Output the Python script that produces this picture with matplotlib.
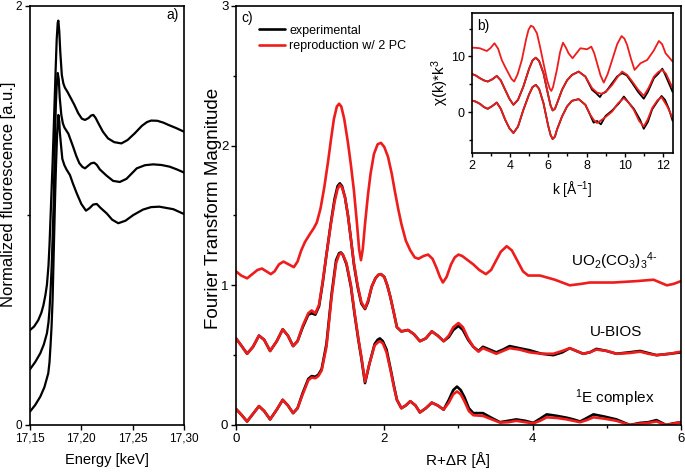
import numpy as np
from matplotlib import pyplot as plt
from matplotlib.ticker import MultipleLocator

plt.rcParams['font.family'] = ['Liberation Sans', 'DejaVu Sans']
plt.rcParams['mathtext.fontset'] = 'custom'
plt.rcParams['mathtext.rm'] = 'Liberation Sans'
plt.rcParams['mathtext.it'] = 'Liberation Sans:italic'
plt.rcParams['mathtext.default'] = 'regular'
plt.rcParams['lines.solid_joinstyle'] = 'round'
plt.rcParams['lines.solid_capstyle'] = 'round'

# a) XANES spectra (energy in keV)
xan_top_x = [17.15, 17.154, 17.158, 17.161, 17.163, 17.165, 17.1665, 17.168, 17.169, 17.170,
             17.171, 17.172, 17.173, 17.174, 17.175, 17.176, 17.177, 17.1776, 17.1785, 17.1795,
             17.181, 17.1825, 17.184, 17.1865, 17.189, 17.193, 17.197, 17.2005, 17.2036, 17.207,
             17.2095, 17.2117, 17.214, 17.2166, 17.221, 17.226, 17.232, 17.239, 17.245, 17.252,
             17.259, 17.264, 17.268, 17.274, 17.28, 17.285, 17.292, 17.30]
xan_top_y = [0.453, 0.47, 0.50, 0.535, 0.57, 0.62, 0.67, 0.76, 0.86, 0.99,
             1.12, 1.25, 1.40, 1.55, 1.70, 1.84, 1.92, 1.93, 1.88, 1.78,
             1.67, 1.63, 1.61, 1.59, 1.567, 1.53, 1.488, 1.462, 1.456, 1.465,
             1.477, 1.48, 1.465, 1.44, 1.40, 1.368, 1.35, 1.344, 1.36, 1.392,
             1.428, 1.446, 1.453, 1.452, 1.443, 1.432, 1.418, 1.40]
xan_mid_x = [17.15, 17.155, 17.16, 17.1635, 17.1665, 17.168, 17.169, 17.170, 17.1711, 17.172,
             17.173, 17.1744, 17.1752, 17.176, 17.177, 17.178, 17.179, 17.1805, 17.182, 17.1835,
             17.1874, 17.192, 17.195, 17.198, 17.201, 17.2036, 17.2065, 17.2095, 17.2125, 17.215,
             17.218, 17.2246, 17.231, 17.2375, 17.244, 17.254, 17.262, 17.270, 17.278, 17.286,
             17.293, 17.30]
xan_mid_y = [0.266, 0.30, 0.342, 0.385, 0.438, 0.49, 0.55, 0.64, 0.755, 0.89,
             1.05, 1.39, 1.53, 1.62, 1.68, 1.65, 1.56, 1.48, 1.44, 1.42,
             1.39, 1.328, 1.285, 1.25, 1.232, 1.225, 1.237, 1.249, 1.252, 1.242,
             1.22, 1.19, 1.165, 1.16, 1.175, 1.225, 1.24, 1.244, 1.241, 1.233,
             1.22, 1.205]
xan_bot_x = [17.15, 17.155, 17.16, 17.164, 17.1678, 17.169, 17.170, 17.171, 17.172, 17.1735,
             17.1745, 17.1753, 17.1765, 17.1776, 17.1785, 17.179, 17.1805, 17.1815, 17.1835, 17.1855,
             17.1889, 17.192, 17.1955, 17.200, 17.2045, 17.208, 17.2115, 17.215, 17.219, 17.2247,
             17.230, 17.236, 17.243, 17.2506, 17.26, 17.268, 17.276, 17.2896, 17.30]
xan_bot_y = [0.064, 0.095, 0.135, 0.18, 0.247, 0.30, 0.38, 0.47, 0.597, 0.90,
             1.10, 1.233, 1.40, 1.48, 1.45, 1.40, 1.32, 1.27, 1.24, 1.22,
             1.193, 1.15, 1.106, 1.055, 1.023, 1.035, 1.052, 1.055, 1.035, 1.01,
             0.98, 0.963, 0.975, 1.002, 1.028, 1.04, 1.042, 1.03, 1.007]
xan_ticks = [17.15, 17.20, 17.25, 17.30]
xan_labels = ['17,15', '17,20', '17,25', '17,30']

# c) Fourier transform magnitude vs R+dR
uo2_x = [0, 0.07, 0.15, 0.22, 0.29, 0.35, 0.41, 0.47, 0.52, 0.58,
         0.64, 0.71, 0.78, 0.83, 0.88, 0.93, 1.0, 1.05, 1.09, 1.14,
         1.19, 1.24, 1.28, 1.32, 1.36, 1.39, 1.42, 1.46, 1.51, 1.55,
         1.59, 1.63, 1.66, 1.685, 1.71, 1.74, 1.78, 1.815, 1.86, 1.91,
         1.955, 2.0, 2.05, 2.10, 2.14, 2.19, 2.23, 2.29, 2.35, 2.41,
         2.46, 2.53, 2.59, 2.65, 2.70, 2.75, 2.79, 2.84, 2.90, 2.95,
         3.0, 3.05, 3.1, 3.2, 3.28, 3.37, 3.44, 3.50, 3.57, 3.65,
         3.72, 3.80, 3.87, 3.94, 4.10, 4.30, 4.50, 4.65, 4.77, 5.09,
         5.40, 5.63, 5.72, 5.81, 5.90, 6.0]
uo2_fit = [1.10, 1.07, 1.05, 1.08, 1.11, 1.12, 1.10, 1.08, 1.10, 1.15,
           1.17, 1.15, 1.13, 1.17, 1.25, 1.31, 1.37, 1.41, 1.45, 1.55,
           1.70, 1.88, 2.04, 2.19, 2.28, 2.30, 2.28, 2.19, 2.02, 1.86,
           1.68, 1.45, 1.26, 1.18, 1.26, 1.44, 1.65, 1.80, 1.94, 2.01,
           2.02, 1.99, 1.92, 1.80, 1.68, 1.54, 1.44, 1.32, 1.25, 1.20,
           1.19, 1.21, 1.22, 1.19, 1.13, 1.06, 1.02, 1.06, 1.15, 1.20,
           1.22, 1.21, 1.19, 1.15, 1.11, 1.08, 1.11, 1.17, 1.24, 1.28,
           1.25, 1.17, 1.10, 1.07, 1.07, 1.04, 1.00, 1.01, 1.02, 1.02,
           1.03, 1.04, 1.02, 1.00, 1.01, 1.03]

bios_x = [0, 0.07, 0.15, 0.23, 0.31, 0.38, 0.46, 0.55, 0.63, 0.70,
          0.77, 0.83, 0.90, 0.975, 1.02, 1.07, 1.12, 1.17, 1.22, 1.28,
          1.33, 1.37, 1.40, 1.43, 1.47, 1.51, 1.55, 1.59, 1.64, 1.69,
          1.74, 1.78, 1.83, 1.88, 1.92, 1.955, 2.0, 2.04, 2.08, 2.13,
          2.17, 2.23, 2.32, 2.40, 2.48, 2.56, 2.64, 2.72, 2.80, 2.87,
          2.93, 3.0, 3.06, 3.13, 3.2, 3.27, 3.33, 3.42, 3.51, 3.60,
          3.69, 3.82, 3.96, 4.12, 4.28, 4.40, 4.50, 4.59, 4.68, 4.77,
          4.86, 5.0, 5.13, 5.30, 5.45, 5.56, 5.67, 5.85, 6.0]
bios_fit = [0.62, 0.57, 0.51, 0.56, 0.64, 0.61, 0.53, 0.60, 0.685, 0.64,
            0.565, 0.60, 0.71, 0.80, 0.82, 0.80, 0.86, 1.03, 1.22, 1.44,
            1.60, 1.69, 1.72, 1.70, 1.63, 1.50, 1.33, 1.16, 1.00, 0.88,
            0.835, 0.89, 0.99, 1.05, 1.075, 1.08, 1.06, 1.00, 0.92, 0.80,
            0.70, 0.67, 0.68, 0.65, 0.60, 0.62, 0.67, 0.64, 0.60, 0.64,
            0.70, 0.73, 0.70, 0.62, 0.56, 0.525, 0.55, 0.53, 0.51, 0.53,
            0.55, 0.54, 0.52, 0.51, 0.51, 0.53, 0.55, 0.53, 0.51, 0.52,
            0.54, 0.53, 0.51, 0.515, 0.525, 0.51, 0.50, 0.51, 0.525]
bios_exp = [0.62, 0.57, 0.51, 0.56, 0.64, 0.61, 0.53, 0.60, 0.685, 0.64,
            0.565, 0.60, 0.70, 0.79, 0.80, 0.79, 0.85, 1.02, 1.22, 1.45,
            1.62, 1.71, 1.73, 1.71, 1.63, 1.50, 1.33, 1.15, 0.99, 0.87,
            0.83, 0.88, 0.99, 1.05, 1.075, 1.08, 1.06, 1.00, 0.92, 0.80,
            0.70, 0.67, 0.68, 0.65, 0.60, 0.62, 0.67, 0.64, 0.60, 0.63,
            0.68, 0.71, 0.68, 0.61, 0.56, 0.53, 0.56, 0.54, 0.52, 0.54,
            0.565, 0.55, 0.535, 0.51, 0.50, 0.52, 0.55, 0.53, 0.51, 0.52,
            0.545, 0.53, 0.51, 0.52, 0.53, 0.515, 0.50, 0.51, 0.52]

e1_x = [0, 0.07, 0.15, 0.23, 0.31, 0.38, 0.46, 0.55, 0.63, 0.70,
        0.77, 0.83, 0.90, 0.975, 1.02, 1.07, 1.11, 1.155, 1.22, 1.29,
        1.35, 1.39, 1.415, 1.44, 1.49, 1.55, 1.60, 1.65, 1.69, 1.74,
        1.80, 1.87, 1.91, 1.94, 1.98, 2.03, 2.085, 2.13, 2.17, 2.23,
        2.29, 2.35, 2.42, 2.48, 2.56, 2.64, 2.72, 2.80, 2.87, 2.93,
        2.98, 3.03, 3.08, 3.14, 3.2, 3.33, 3.45, 3.56, 3.67, 3.78,
        3.90, 4.01, 4.10, 4.19, 4.33, 4.46, 4.55, 4.64, 4.73, 4.82,
        4.97, 5.13, 5.22, 5.31, 5.45, 5.56, 5.67, 5.80, 5.90, 6.0]
e1_fit = [0.115, 0.075, 0.025, 0.08, 0.135, 0.10, 0.04, 0.11, 0.18, 0.14,
          0.085, 0.12, 0.22, 0.32, 0.34, 0.335, 0.35, 0.39, 0.56, 0.92,
          1.16, 1.22, 1.23, 1.22, 1.16, 1.00, 0.80, 0.62, 0.49, 0.31,
          0.44, 0.57, 0.59, 0.60, 0.585, 0.52, 0.39, 0.27, 0.18, 0.12,
          0.14, 0.17, 0.14, 0.09, 0.12, 0.16, 0.14, 0.11, 0.16, 0.22,
          0.24, 0.22, 0.17, 0.10, 0.07, 0.065, 0.04, 0.017, 0.02, 0.03,
          0.02, 0.012, 0.03, 0.055, 0.05, 0.04, 0.03, 0.02, 0.035, 0.055,
          0.045, 0.03, 0.015, 0.0, 0.01, 0.015, 0.025, 0.0, 0.01, 0.02]
e1_exp = [0.115, 0.075, 0.025, 0.08, 0.135, 0.10, 0.04, 0.11, 0.18, 0.14,
          0.085, 0.12, 0.23, 0.33, 0.35, 0.345, 0.36, 0.40, 0.58, 0.94,
          1.18, 1.23, 1.235, 1.22, 1.15, 0.99, 0.79, 0.61, 0.48, 0.30,
          0.44, 0.58, 0.61, 0.62, 0.60, 0.54, 0.40, 0.28, 0.18, 0.12,
          0.14, 0.17, 0.14, 0.09, 0.12, 0.16, 0.14, 0.11, 0.18, 0.25,
          0.275, 0.25, 0.20, 0.12, 0.085, 0.085, 0.05, 0.02, 0.03, 0.04,
          0.03, 0.015, 0.045, 0.076, 0.065, 0.052, 0.04, 0.025, 0.05, 0.076,
          0.06, 0.04, 0.02, 0.0, 0.015, 0.02, 0.035, 0.0, 0.012, 0.02]

# b) inset, chi(k)*k^3
k_top_x = [2, 2.2, 2.43, 2.62, 2.79, 2.98, 3.19, 3.38, 3.57, 3.75,
           3.92, 4.07, 4.22, 4.4, 4.62, 4.85, 4.97, 5.09, 5.22, 5.41,
           5.58, 5.75, 5.95, 6.08, 6.16, 6.25, 6.45, 6.62, 6.77, 6.92,
           7.06, 7.27, 7.48, 7.68, 8.03, 8.25, 8.40, 8.55, 8.73, 8.9,
           9.1, 9.34, 9.6, 9.83, 9.98, 10.12, 10.32, 10.51, 10.82, 11.17,
           11.5, 11.78, 11.95, 12.13, 12.5]
k_top_fit = [11.58, 11.55, 11.47, 11.2, 10.98, 11.5, 12.37, 11.4, 9.37, 8.1,
             6.99, 6.0, 5.49, 6.8, 9.37, 13.2, 14.8, 15.52, 15.3, 14.15,
             11.6, 8.78, 5.6, 4.2, 3.8, 4.5, 7.58, 10.8, 12.47, 11.6,
             10.57, 9.68, 10.6, 11.47, 11.29, 11.76, 10.6, 8.78, 6.6, 5.3,
             6.8, 9.37, 12.2, 13.67, 13.2, 12.06, 9.6, 7.58, 8.78, 9.37,
             11.0, 12.78, 12.2, 10.57, 9.07]

k_mid_x = [2, 2.2, 2.43, 2.64, 2.84, 3.08, 3.31, 3.52, 3.75, 3.97,
           4.18, 4.42, 4.7, 5.0, 5.18, 5.35, 5.52, 5.75, 6.0, 6.12,
           6.23, 6.35, 6.45, 6.72, 6.98, 7.24, 7.59, 7.94, 8.29, 8.55,
           8.81, 9.08, 9.34, 9.6, 9.86, 10.12, 10.39, 10.7, 10.99, 11.25,
           11.52, 11.75, 11.96, 12.15, 12.3, 12.5]
k_mid_fit = [6.86, 6.6, 6.09, 5.7, 5.49, 5.9, 6.5, 5.7, 4.0, 2.4,
             1.31, 2.2, 4.59, 7.8, 9.3, 9.78, 9.2, 6.99, 3.0, 1.2,
             0.29, 0.6, 1.5, 4.0, 5.7, 6.68, 7.28, 6.38, 4.3, 3.5,
             3.28, 3.9, 4.89, 6.2, 7.28, 6.7, 5.49, 4.0, 2.92, 4.4,
             6.38, 7.2, 7.58, 6.9, 5.79, 4.3]
k_mid_exp_x = [2, 2.2, 2.43, 2.64, 2.84, 3.08, 3.31, 3.52, 3.75, 3.97,
               4.18, 4.42, 4.7, 5.0, 5.18, 5.35, 5.52, 5.75, 6.0, 6.12,
               6.23, 6.35, 6.45, 6.72, 6.98, 7.24, 7.59, 7.94, 8.29, 8.5,
               8.7, 8.81, 9.0, 9.34, 9.6, 9.86, 10.1, 10.39, 10.7, 10.99,
               11.2, 11.52, 11.75, 11.96, 12.1, 12.3, 12.5]
k_mid_exp = [6.86, 6.6, 6.09, 5.7, 5.49, 5.9, 6.5, 5.7, 4.0, 2.4,
             1.31, 2.2, 4.59, 7.8, 9.3, 9.78, 9.2, 6.99, 3.0, 1.2,
             0.29, 0.6, 1.5, 4.0, 5.7, 6.68, 7.28, 6.38, 4.0, 3.4,
             2.7, 3.3, 3.6, 5.2, 6.4, 7.0, 6.6, 5.2, 3.6, 2.4,
             3.6, 6.1, 6.9, 7.8, 6.8, 5.2, 3.6]

k_bot_x = [2, 2.2, 2.43, 2.64, 2.84, 3.08, 3.31, 3.52, 3.75, 3.97,
           4.18, 4.42, 4.7, 5.0, 5.18, 5.35, 5.52, 5.75, 6.0, 6.12,
           6.23, 6.35, 6.45, 6.72, 6.98, 7.24, 7.59, 7.94, 8.2, 8.37,
           8.55, 8.75, 8.99, 9.34, 9.65, 9.95, 10.2, 10.47, 10.75, 10.99,
           11.2, 11.43, 11.7, 11.92, 12.22, 12.5]
k_bot_fit = [2.08, 1.9, 1.49, 0.9, 0.59, 1.1, 1.72, 0.6, -1.38, -2.9,
             -3.76, -2.6, 0.41, 3.2, 4.5, 4.89, 4.2, 1.61, -2.5, -4.1,
             -4.84, -4.4, -3.2, -0.79, 1.0, 2.03, 2.33, 1.31, -0.5, -1.38,
             -1.97, -1.5, -0.9, 0.11, 1.6, 2.51, 1.7, 0.41, -1.6, -2.58,
             -1.3, 0.72, 2.1, 2.69, 1.0, -1.08]
k_bot_exp_x = [2, 2.2, 2.43, 2.64, 2.84, 3.08, 3.31, 3.52, 3.75, 3.97,
               4.18, 4.42, 4.7, 5.0, 5.18, 5.35, 5.52, 5.75, 6.0, 6.12,
               6.23, 6.35, 6.45, 6.72, 6.98, 7.24, 7.59, 7.94, 8.2, 8.37,
               8.55, 8.75, 8.99, 9.34, 9.7, 9.95, 10.2, 10.47, 10.8, 10.99,
               11.2, 11.43, 11.7, 11.92, 12.1, 12.3, 12.5]
k_bot_exp = [2.08, 1.9, 1.49, 0.9, 0.59, 1.1, 1.72, 0.6, -1.38, -2.9,
             -3.76, -2.6, 0.41, 3.2, 4.5, 4.89, 4.2, 1.61, -2.5, -4.1,
             -4.84, -4.4, -3.2, -0.79, 1.0, 2.03, 2.33, 1.31, -0.6, -1.9,
             -1.6, -2.2, -0.7, 0.3, 1.6, 2.8, 1.7, 0.6, -1.4, -3.0,
             -1.8, 0.5, 1.9, 2.9, 2.2, 0.6, -1.6]

red = '#ee1c1c'

fig = plt.figure(figsize=(6.85, 4.74), dpi=100)

# panel a
ax_a = fig.add_axes([0.0438, 0.1034, 0.2248, 0.884])
for xs, ys in [(xan_top_x, xan_top_y), (xan_mid_x, xan_mid_y), (xan_bot_x, xan_bot_y)]:
    ax_a.plot(xs, ys, color='black', lw=1.6)
ax_a.set_xlim(17.15, 17.30)
ax_a.set_ylim(0, 2)
ax_a.set_xticks(xan_ticks)
ax_a.set_xticklabels(xan_labels)
ax_a.set_yticks([0, 2])
ax_a.yaxis.set_minor_locator(MultipleLocator(1))
ax_a.tick_params(which='both', direction='out', labelsize=8.5, width=1.0, pad=2)
ax_a.tick_params(which='major', length=3.5)
ax_a.tick_params(which='minor', length=2)
ax_a.set_xlabel('Energy [keV]', fontsize=10.5)
ax_a.set_ylabel('Normalized fluorescence [a.u.]', fontsize=12)
ax_a.xaxis.set_label_coords(0.5, -0.068)
ax_a.yaxis.set_label_coords(-0.092, 0.55)
ax_a.text(0.925, 0.978, 'a)', transform=ax_a.transAxes, ha='center', va='center', fontsize=10)

# panel c
ax_c = fig.add_axes([0.3445, 0.1034, 0.6496, 0.884])
ax_c.plot(bios_x, bios_exp, color='black', lw=1.9, label='experimental')
ax_c.plot(e1_x, e1_exp, color='black', lw=1.9)
ax_c.plot(uo2_x, uo2_fit, color=red, lw=1.9, label='reproduction w/ 2 PC')
ax_c.plot(bios_x, bios_fit, color=red, lw=1.9)
ax_c.plot(e1_x, e1_fit, color=red, lw=1.9)
ax_c.set_xlim(0, 6)
ax_c.set_ylim(0, 3)
ax_c.xaxis.set_major_locator(MultipleLocator(2))
ax_c.xaxis.set_minor_locator(MultipleLocator(1))
ax_c.yaxis.set_major_locator(MultipleLocator(1))
ax_c.yaxis.set_minor_locator(MultipleLocator(0.5))
ax_c.tick_params(which='both', direction='out', labelsize=9.5, width=1.0, pad=2)
ax_c.tick_params(which='major', length=3.5)
ax_c.tick_params(which='minor', length=2)
ax_c.set_xlabel('R+ΔR [Å]', fontsize=11)
ax_c.set_ylabel('Fourier Transform Magnitude', fontsize=13.5)
ax_c.xaxis.set_label_coords(0.5, -0.064)
ax_c.yaxis.set_label_coords(-0.031, 0.518)
ax_c.text(0.012, 0.972, 'c)', transform=ax_c.transAxes, ha='left', va='center', fontsize=10)
ax_c.legend(loc='upper left', bbox_to_anchor=(0.052, 0.955), frameon=False, fontsize=9,
            handlelength=2.1, handletextpad=0.3, labelspacing=0.25, borderpad=0, borderaxespad=0)
ax_c.text(5.10, 1.17, r'UO$_2$(CO$_3$)$_3$$^{4\text{-}}$', ha='center', va='center', fontsize=11)
ax_c.text(5.12, 0.668, 'U-BIOS', ha='center', va='center', fontsize=11)
ax_c.text(5.11, 0.19, '$^1$E complex', ha='center', va='center', fontsize=11)

# inset b
ax_b = fig.add_axes([0.6886, 0.6778, 0.2934, 0.2947])
ax_b.plot(k_mid_exp_x, k_mid_exp, color='black', lw=1.3)
ax_b.plot(k_bot_exp_x, k_bot_exp, color='black', lw=1.3)
ax_b.plot(k_top_x, k_top_fit, color=red, lw=1.3)
ax_b.plot(k_mid_x, k_mid_fit, color=red, lw=1.3)
ax_b.plot(k_bot_x, k_bot_fit, color=red, lw=1.3)
ax_b.set_xlim(2, 12.5)
ax_b.set_ylim(-7.3, 17.8)
ax_b.xaxis.set_major_locator(MultipleLocator(2))
ax_b.xaxis.set_minor_locator(MultipleLocator(1))
ax_b.yaxis.set_major_locator(MultipleLocator(10))
ax_b.yaxis.set_minor_locator(MultipleLocator(5))
ax_b.tick_params(which='both', direction='out', labelsize=9, width=1.0, pad=2)
ax_b.tick_params(which='major', length=3)
ax_b.tick_params(which='minor', length=2)
ax_b.set_xlabel('k [Å$^{-1}$]', fontsize=10)
ax_b.set_ylabel('χ(k)*k$^3$', fontsize=11)
ax_b.xaxis.set_label_coords(0.5, -0.195)
ax_b.yaxis.set_label_coords(-0.105, 0.5)
ax_b.text(0.025, 0.91, 'b)', transform=ax_b.transAxes, ha='left', va='center', fontsize=10)

for ax in [ax_a, ax_c, ax_b]:
    for sp in ax.spines.values():
        sp.set_linewidth(1.2)

plt.savefig('out.png', dpi=100)
